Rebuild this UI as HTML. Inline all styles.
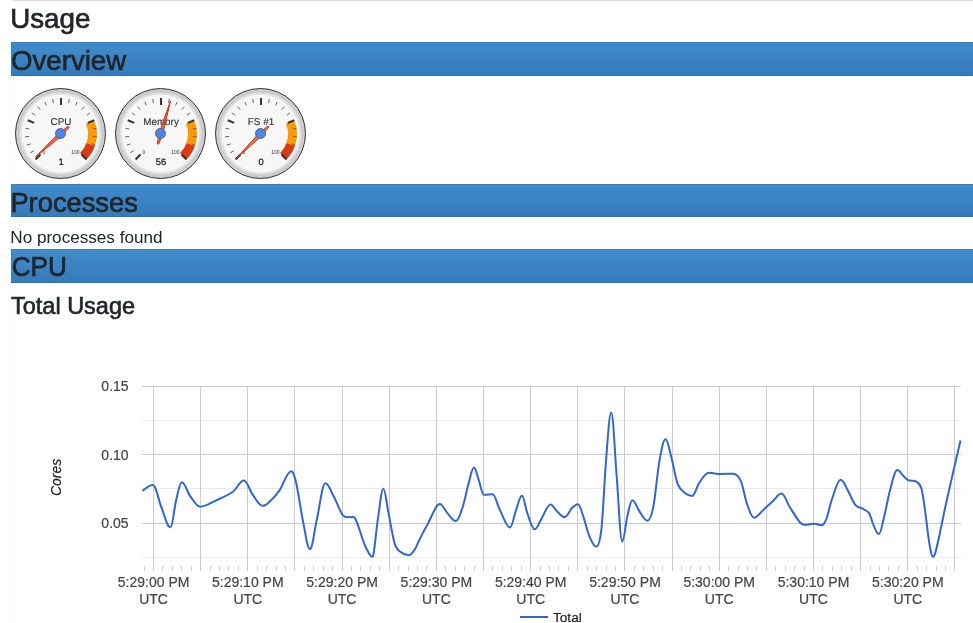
<!DOCTYPE html>
<html><head><meta charset="utf-8"><title>Usage</title>
<style>
html,body{margin:0;padding:0;background:#fff;}
body{width:973px;height:623px;overflow:hidden;position:relative;font-family:"Liberation Sans",sans-serif;color:#212529;}
.topline{position:absolute;left:13px;top:0;right:0;height:1px;background:#dedede;}
.topshadow{position:absolute;left:13px;top:1px;right:0;height:2px;background:linear-gradient(#f3f3f3,#ffffff);}
.leftline{position:absolute;left:10px;top:42px;width:1px;height:581px;background:#f9f9f9;}
.h,.p{will-change:transform;}
.h{position:absolute;left:11px;margin:0;font-weight:400;font-size:28px;line-height:34px;height:34px;white-space:nowrap;}
.bar{right:0;box-sizing:border-box;background:linear-gradient(to bottom,#428bca 0%,#347bbb 100%);border:1px solid #347fc4;border-top-color:#3581c7;border-bottom-color:#2b72b5;border-right:0;}
.h span,.p span{position:relative;display:inline-block;transform-origin:0 50%;}
.p{position:absolute;left:11px;margin:0;font-size:16px;line-height:24px;white-space:nowrap;}
svg{position:absolute;left:0;top:0;will-change:transform;}
svg text{font-family:"Liberation Sans",sans-serif;}
</style></head><body>
<div class="topline"></div><div class="topshadow"></div><div class="leftline"></div>
<h2 class="h" id="h_usage" style="top:0px;font-size:27.8px;-webkit-text-stroke:0.65px #212529;"><span style="transform:translate(-0.79px,2.00px) scaleX(0.9980);">Usage</span></h2>
<h2 class="h bar" id="h_over" style="top:42px;font-size:27.8px;-webkit-text-stroke:0.65px #212529;"><span style="transform:translate(-0.90px,1.20px) scaleX(0.9930);">Overview</span></h2>
<h2 class="h bar" id="h_proc" style="top:184px;font-size:27.8px;height:33px;-webkit-text-stroke:0.65px #212529;"><span style="transform:translate(-1.60px,0.58px) scaleX(0.9820);">Processes</span></h2>
<div class="p" id="p_none" style="top:225px;font-size:16.5px;"><span style="transform:translate(-0.73px,-0.28px) scaleX(1.0370);">No processes found</span></div>
<h2 class="h bar" id="h_cpu" style="top:249px;font-size:27.8px;-webkit-text-stroke:0.65px #212529;"><span style="transform:translate(-0.25px,0.29px) scaleX(0.9400);">CPU</span></h2>
<h4 class="h" id="h_total" style="top:291px;font-size:23.7px;-webkit-text-stroke:0.6px #212529;"><span style="transform:translate(-0.02px,-2.45px) scaleX(0.9920);">Total Usage</span></h4>
<svg width="973" height="623" viewBox="0 0 973 623">
<g>
<circle cx="60.5" cy="133.5" r="45" stroke="#333333" stroke-width="1" fill="#cccccc"/>
<circle cx="60.5" cy="133.5" r="40" stroke="#e0e0e0" stroke-width="2" fill="#f7f7f7"/>
<path d="M94.26,120.22A36,36,0,0,1,94.97,145.93L86.47,142.95A27,27,0,0,0,85.94,123.67Z" fill="#ff9900"/>
<path d="M94.97,145.93A36,36,0,0,1,86.46,159.46L80.09,153.09A27,27,0,0,0,86.47,142.95Z" fill="#dc3912"/>
<g transform="translate(61.0,124.90) scale(0.25) rotate(0.05)"><text x="0" y="0" text-anchor="middle" font-size="39.6" fill="#333333" stroke="#333333" stroke-width="0.6">CPU</text></g>
<text x="42.50" y="153.80" text-anchor="start" font-size="5" fill="#333333">0</text>
<text x="79.60" y="153.80" text-anchor="end" font-size="5" fill="#333333">100</text>
<path d="M30.30,152.81L33.72,150.72M26.76,145.12L30.57,143.89M25.11,136.82L29.10,136.51M25.44,128.37L29.39,128.99M31.88,112.84L35.11,115.19M37.62,106.63L40.22,109.67M44.66,101.92L46.47,105.49M52.60,98.99L53.53,102.88M69.40,98.99L68.47,102.88M77.34,101.92L75.53,105.49M84.38,106.63L81.78,109.67M90.12,112.84L86.89,115.19M96.56,128.37L92.61,128.99M96.89,136.82L92.90,136.51M95.24,145.12L91.43,143.89M91.70,152.81L88.28,150.72" stroke="#666666" stroke-width="1" fill="none"/>
<path d="M35.54,159.46L40.49,154.51M27.74,120.22L34.21,122.90M61.00,98.00L61.00,105.00M94.26,120.22L87.79,122.90M86.46,159.46L81.51,154.51" stroke="#333333" stroke-width="2" fill="none"/>
<g transform="translate(61.0,164.90) scale(0.25) rotate(0.05)"><text x="0" y="0" text-anchor="middle" font-size="37.6" fill="#000000" stroke="#000000" stroke-width="0.6">1</text></g>
<path d="M35.53,156.98L52.90,142.94L62.08,135.19L69.14,127.35L68.20,126.32L59.72,132.61L51.15,141.01Z" stroke="#c63310" stroke-width="1" stroke-linejoin="round" fill="#dc3912" fill-opacity="0.7"/>
<circle cx="60.5" cy="133.5" r="5.0" stroke="#666666" stroke-width="1" fill="#4684ee"/>
</g><g>
<circle cx="160.5" cy="133.5" r="45" stroke="#333333" stroke-width="1" fill="#cccccc"/>
<circle cx="160.5" cy="133.5" r="40" stroke="#e0e0e0" stroke-width="2" fill="#f7f7f7"/>
<path d="M194.26,120.22A36,36,0,0,1,194.97,145.93L186.47,142.95A27,27,0,0,0,185.94,123.67Z" fill="#ff9900"/>
<path d="M194.97,145.93A36,36,0,0,1,186.46,159.46L180.09,153.09A27,27,0,0,0,186.47,142.95Z" fill="#dc3912"/>
<g transform="translate(161.0,124.90) scale(0.25) rotate(0.05)"><text x="0" y="0" text-anchor="middle" font-size="39.6" fill="#333333" stroke="#333333" stroke-width="0.6">Memory</text></g>
<text x="142.50" y="153.80" text-anchor="start" font-size="5" fill="#333333">0</text>
<text x="179.60" y="153.80" text-anchor="end" font-size="5" fill="#333333">100</text>
<path d="M130.30,152.81L133.72,150.72M126.76,145.12L130.57,143.89M125.11,136.82L129.10,136.51M125.44,128.37L129.39,128.99M131.88,112.84L135.11,115.19M137.62,106.63L140.22,109.67M144.66,101.92L146.47,105.49M152.60,98.99L153.53,102.88M169.40,98.99L168.47,102.88M177.34,101.92L175.53,105.49M184.38,106.63L181.78,109.67M190.12,112.84L186.89,115.19M196.56,128.37L192.61,128.99M196.89,136.82L192.90,136.51M195.24,145.12L191.43,143.89M191.70,152.81L188.28,150.72" stroke="#666666" stroke-width="1" fill="none"/>
<path d="M135.54,159.46L140.49,154.51M127.74,120.22L134.21,122.90M161.00,98.00L161.00,105.00M194.26,120.22L187.79,122.90M186.46,159.46L181.51,154.51" stroke="#333333" stroke-width="2" fill="none"/>
<g transform="translate(161.0,164.90) scale(0.25) rotate(0.05)"><text x="0" y="0" text-anchor="middle" font-size="37.6" fill="#000000" stroke="#000000" stroke-width="0.6">56</text></g>
<path d="M170.47,100.96L163.00,122.01L159.22,133.41L157.30,143.79L158.64,144.18L162.58,134.39L165.50,122.74Z" stroke="#c63310" stroke-width="1" stroke-linejoin="round" fill="#dc3912" fill-opacity="0.7"/>
<circle cx="160.5" cy="133.5" r="5.0" stroke="#666666" stroke-width="1" fill="#4684ee"/>
</g><g>
<circle cx="260.5" cy="133.5" r="45" stroke="#333333" stroke-width="1" fill="#cccccc"/>
<circle cx="260.5" cy="133.5" r="40" stroke="#e0e0e0" stroke-width="2" fill="#f7f7f7"/>
<path d="M294.26,120.22A36,36,0,0,1,294.97,145.93L286.47,142.95A27,27,0,0,0,285.94,123.67Z" fill="#ff9900"/>
<path d="M294.97,145.93A36,36,0,0,1,286.46,159.46L280.09,153.09A27,27,0,0,0,286.47,142.95Z" fill="#dc3912"/>
<g transform="translate(261.0,124.90) scale(0.25) rotate(0.05)"><text x="0" y="0" text-anchor="middle" font-size="39.6" fill="#333333" stroke="#333333" stroke-width="0.6">FS #1</text></g>
<text x="242.50" y="153.80" text-anchor="start" font-size="5" fill="#333333">0</text>
<text x="279.60" y="153.80" text-anchor="end" font-size="5" fill="#333333">100</text>
<path d="M230.30,152.81L233.72,150.72M226.76,145.12L230.57,143.89M225.11,136.82L229.10,136.51M225.44,128.37L229.39,128.99M231.88,112.84L235.11,115.19M237.62,106.63L240.22,109.67M244.66,101.92L246.47,105.49M252.60,98.99L253.53,102.88M269.40,98.99L268.47,102.88M277.34,101.92L275.53,105.49M284.38,106.63L281.78,109.67M290.12,112.84L286.89,115.19M296.56,128.37L292.61,128.99M296.89,136.82L292.90,136.51M295.24,145.12L291.43,143.89M291.70,152.81L288.28,150.72" stroke="#666666" stroke-width="1" fill="none"/>
<path d="M235.54,159.46L240.49,154.51M227.74,120.22L234.21,122.90M261.00,98.00L261.00,105.00M294.26,120.22L287.79,122.90M286.46,159.46L281.51,154.51" stroke="#333333" stroke-width="2" fill="none"/>
<g transform="translate(261.0,164.90) scale(0.25) rotate(0.05)"><text x="0" y="0" text-anchor="middle" font-size="37.6" fill="#000000" stroke="#000000" stroke-width="0.6">0</text></g>
<path d="M236.65,158.15L253.33,143.30L262.14,135.14L268.82,126.97L267.83,125.98L259.66,132.66L251.50,141.47Z" stroke="#c63310" stroke-width="1" stroke-linejoin="round" fill="#dc3912" fill-opacity="0.7"/>
<circle cx="260.5" cy="133.5" r="5.0" stroke="#666666" stroke-width="1" fill="#4684ee"/>
</g>
<g>
<rect x="142" y="420" width="819" height="1" fill="#ebebeb"/>
<rect x="142" y="488" width="819" height="1" fill="#ebebeb"/>
<rect x="142" y="557" width="819" height="1" fill="#ebebeb"/>
<rect x="144" y="566" width="1" height="5" fill="#d2d2d2"/>
<rect x="162" y="566" width="1" height="5" fill="#d2d2d2"/>
<rect x="172" y="566" width="1" height="5" fill="#d2d2d2"/>
<rect x="181" y="566" width="1" height="5" fill="#d2d2d2"/>
<rect x="191" y="566" width="1" height="5" fill="#d2d2d2"/>
<rect x="210" y="566" width="1" height="5" fill="#d2d2d2"/>
<rect x="219" y="566" width="1" height="5" fill="#d2d2d2"/>
<rect x="228" y="566" width="1" height="5" fill="#d2d2d2"/>
<rect x="238" y="566" width="1" height="5" fill="#d2d2d2"/>
<rect x="257" y="566" width="1" height="5" fill="#d2d2d2"/>
<rect x="266" y="566" width="1" height="5" fill="#d2d2d2"/>
<rect x="276" y="566" width="1" height="5" fill="#d2d2d2"/>
<rect x="285" y="566" width="1" height="5" fill="#d2d2d2"/>
<rect x="304" y="566" width="1" height="5" fill="#d2d2d2"/>
<rect x="313" y="566" width="1" height="5" fill="#d2d2d2"/>
<rect x="323" y="566" width="1" height="5" fill="#d2d2d2"/>
<rect x="332" y="566" width="1" height="5" fill="#d2d2d2"/>
<rect x="351" y="566" width="1" height="5" fill="#d2d2d2"/>
<rect x="360" y="566" width="1" height="5" fill="#d2d2d2"/>
<rect x="370" y="566" width="1" height="5" fill="#d2d2d2"/>
<rect x="379" y="566" width="1" height="5" fill="#d2d2d2"/>
<rect x="398" y="566" width="1" height="5" fill="#d2d2d2"/>
<rect x="408" y="566" width="1" height="5" fill="#d2d2d2"/>
<rect x="417" y="566" width="1" height="5" fill="#d2d2d2"/>
<rect x="426" y="566" width="1" height="5" fill="#d2d2d2"/>
<rect x="445" y="566" width="1" height="5" fill="#d2d2d2"/>
<rect x="455" y="566" width="1" height="5" fill="#d2d2d2"/>
<rect x="464" y="566" width="1" height="5" fill="#d2d2d2"/>
<rect x="474" y="566" width="1" height="5" fill="#d2d2d2"/>
<rect x="492" y="566" width="1" height="5" fill="#d2d2d2"/>
<rect x="502" y="566" width="1" height="5" fill="#d2d2d2"/>
<rect x="511" y="566" width="1" height="5" fill="#d2d2d2"/>
<rect x="521" y="566" width="1" height="5" fill="#d2d2d2"/>
<rect x="540" y="566" width="1" height="5" fill="#d2d2d2"/>
<rect x="549" y="566" width="1" height="5" fill="#d2d2d2"/>
<rect x="558" y="566" width="1" height="5" fill="#d2d2d2"/>
<rect x="568" y="566" width="1" height="5" fill="#d2d2d2"/>
<rect x="587" y="566" width="1" height="5" fill="#d2d2d2"/>
<rect x="596" y="566" width="1" height="5" fill="#d2d2d2"/>
<rect x="606" y="566" width="1" height="5" fill="#d2d2d2"/>
<rect x="615" y="566" width="1" height="5" fill="#d2d2d2"/>
<rect x="634" y="566" width="1" height="5" fill="#d2d2d2"/>
<rect x="643" y="566" width="1" height="5" fill="#d2d2d2"/>
<rect x="653" y="566" width="1" height="5" fill="#d2d2d2"/>
<rect x="662" y="566" width="1" height="5" fill="#d2d2d2"/>
<rect x="681" y="566" width="1" height="5" fill="#d2d2d2"/>
<rect x="690" y="566" width="1" height="5" fill="#d2d2d2"/>
<rect x="700" y="566" width="1" height="5" fill="#d2d2d2"/>
<rect x="709" y="566" width="1" height="5" fill="#d2d2d2"/>
<rect x="728" y="566" width="1" height="5" fill="#d2d2d2"/>
<rect x="738" y="566" width="1" height="5" fill="#d2d2d2"/>
<rect x="747" y="566" width="1" height="5" fill="#d2d2d2"/>
<rect x="756" y="566" width="1" height="5" fill="#d2d2d2"/>
<rect x="775" y="566" width="1" height="5" fill="#d2d2d2"/>
<rect x="785" y="566" width="1" height="5" fill="#d2d2d2"/>
<rect x="794" y="566" width="1" height="5" fill="#d2d2d2"/>
<rect x="804" y="566" width="1" height="5" fill="#d2d2d2"/>
<rect x="822" y="566" width="1" height="5" fill="#d2d2d2"/>
<rect x="832" y="566" width="1" height="5" fill="#d2d2d2"/>
<rect x="841" y="566" width="1" height="5" fill="#d2d2d2"/>
<rect x="851" y="566" width="1" height="5" fill="#d2d2d2"/>
<rect x="870" y="566" width="1" height="5" fill="#d2d2d2"/>
<rect x="879" y="566" width="1" height="5" fill="#d2d2d2"/>
<rect x="888" y="566" width="1" height="5" fill="#d2d2d2"/>
<rect x="898" y="566" width="1" height="5" fill="#d2d2d2"/>
<rect x="917" y="566" width="1" height="5" fill="#d2d2d2"/>
<rect x="926" y="566" width="1" height="5" fill="#d2d2d2"/>
<rect x="936" y="566" width="1" height="5" fill="#d2d2d2"/>
<rect x="945" y="566" width="1" height="5" fill="#d2d2d2"/>
<rect x="142" y="386" width="819" height="1" fill="#cccccc"/>
<rect x="142" y="454" width="819" height="1" fill="#cccccc"/>
<rect x="142" y="523" width="819" height="1" fill="#cccccc"/>
<rect x="153" y="386" width="1" height="185" fill="#cccccc"/>
<rect x="200" y="386" width="1" height="185" fill="#cccccc"/>
<rect x="247" y="386" width="1" height="185" fill="#cccccc"/>
<rect x="294" y="386" width="1" height="185" fill="#cccccc"/>
<rect x="342" y="386" width="1" height="185" fill="#cccccc"/>
<rect x="389" y="386" width="1" height="185" fill="#cccccc"/>
<rect x="436" y="386" width="1" height="185" fill="#cccccc"/>
<rect x="483" y="386" width="1" height="185" fill="#cccccc"/>
<rect x="530" y="386" width="1" height="185" fill="#cccccc"/>
<rect x="577" y="386" width="1" height="185" fill="#cccccc"/>
<rect x="624" y="386" width="1" height="185" fill="#cccccc"/>
<rect x="672" y="386" width="1" height="185" fill="#cccccc"/>
<rect x="719" y="386" width="1" height="185" fill="#cccccc"/>
<rect x="766" y="386" width="1" height="185" fill="#cccccc"/>
<rect x="813" y="386" width="1" height="185" fill="#cccccc"/>
<rect x="860" y="386" width="1" height="185" fill="#cccccc"/>
<rect x="907" y="386" width="1" height="185" fill="#cccccc"/>
<rect x="954" y="386" width="1" height="185" fill="#cccccc"/>
<path d="M142.4,490.8C144.1,489.8,148.8,485.0,152.8,485.0C156.0,485.0,158.4,499.9,161.3,507.0C164.2,514.0,167.0,527.3,170.5,527.3C172.6,527.3,174.1,508.4,176.0,500.9C177.9,493.4,179.6,482.3,181.8,482.3C185.0,482.3,187.2,492.2,190.3,496.3C193.4,500.4,196.4,506.7,200.1,506.7C206.2,506.7,210.7,502.8,216.2,500.3C221.7,497.8,228.4,495.0,233.0,491.7C237.6,488.4,239.6,480.5,243.7,480.5C247.2,480.5,249.7,490.6,252.8,494.8C256.0,499.0,258.9,505.8,262.6,505.8C265.8,505.8,268.2,502.9,271.1,500.3C274.0,497.7,276.3,495.0,279.7,490.2C283.1,485.4,286.9,471.3,291.3,471.3C293.1,471.3,294.1,474.1,296.1,482.6C298.1,491.1,300.9,511.1,303.2,522.2C305.5,533.3,307.4,549.1,309.9,549.1C312.6,549.1,314.3,530.2,316.9,519.2C319.5,508.2,322.2,483.2,325.4,483.2C328.6,483.2,330.8,491.0,333.7,496.3C336.6,501.6,340.0,511.7,342.8,515.2C345.6,518.7,348.3,516.4,350.4,517.1C352.5,517.8,353.3,514.8,355.6,519.2C357.9,523.6,361.9,537.8,364.2,543.6C366.5,549.4,368.0,551.8,369.3,554.0C370.6,556.2,370.9,556.8,371.9,556.8C372.7,556.8,373.0,557.3,374.0,551.0C375.0,544.7,376.3,529.6,377.9,519.2C379.5,508.8,381.3,488.7,383.4,488.7C385.3,488.7,386.6,504.0,388.5,513.1C390.4,522.2,392.6,537.1,394.7,543.6C396.8,550.1,398.4,550.2,400.8,552.1C403.2,554.0,405.9,555.2,409.0,555.2C411.1,555.2,412.9,552.2,414.5,550.0C416.1,547.8,416.9,544.9,418.4,542.0C419.8,539.1,421.6,535.5,423.2,532.4C424.8,529.3,426.4,526.8,428.0,523.6C429.6,520.4,431.4,516.2,432.9,513.2C434.4,510.3,435.8,507.4,436.9,505.9C438.0,504.3,438.7,503.9,439.8,503.9C442.7,503.9,444.7,510.2,447.4,513.1C450.1,516.0,452.7,521.0,456.0,521.0C458.5,521.0,460.6,513.4,462.7,507.0C464.8,500.6,466.9,489.2,468.8,482.6C470.7,476.0,472.0,467.6,474.0,467.6C475.7,467.6,476.9,475.0,478.6,479.5C480.3,484.0,481.9,494.8,484.0,494.8C487.3,494.8,489.3,494.2,492.6,494.2C495.4,494.2,497.0,504.5,499.9,510.0C502.8,515.5,506.2,527.4,510.0,527.4C512.3,527.4,514.1,515.3,516.1,510.0C518.1,504.7,519.7,495.7,521.9,495.7C524.0,495.7,525.2,507.5,527.3,513.1C529.4,518.7,531.9,529.3,534.7,529.3C537.5,529.3,539.4,521.8,542.0,517.7C544.6,513.6,547.3,504.5,550.5,504.5C553.0,504.5,554.9,509.5,557.2,511.6C559.6,513.7,561.8,517.1,564.6,517.1C567.3,517.1,569.4,510.6,571.6,508.5C573.8,506.4,575.6,504.2,578.0,504.2C580.0,504.2,581.3,510.8,583.2,516.1C585.1,521.4,587.1,530.9,589.3,536.0C591.5,541.1,593.6,546.6,596.3,546.6C598.3,546.6,599.9,542.5,601.5,528.3C603.1,514.1,604.4,480.5,606.0,461.2C607.6,441.9,609.2,412.4,611.2,412.4C613.3,412.4,614.9,455.0,616.7,476.5C618.5,498.0,620.1,541.4,622.2,541.4C624.2,541.4,625.7,523.0,627.4,516.1C629.1,509.2,630.4,500.3,632.3,500.3C635.1,500.3,637.1,508.2,639.6,511.6C642.1,515.0,644.5,520.7,647.5,520.7C649.7,520.7,651.3,516.9,653.3,507.0C655.3,497.1,657.4,472.5,659.4,461.2C661.4,449.9,663.2,439.3,665.5,439.3C667.8,439.3,669.6,450.7,671.6,458.2C673.6,465.7,675.4,478.2,677.7,484.1C680.0,490.0,682.9,491.3,685.3,493.3C687.7,495.3,689.6,496.0,692.2,496.0C694.9,496.0,696.6,486.5,699.4,482.6C702.2,478.7,705.3,472.8,708.9,472.8C713.5,472.8,716.5,474.0,721.1,474.0C725.7,474.0,728.7,473.7,733.3,473.7C736.2,473.7,738.6,476.1,740.9,481.1C743.2,486.1,744.8,497.8,747.0,503.9C749.2,510.0,751.4,517.7,754.1,517.7C757.8,517.7,760.6,512.2,763.8,509.4C766.9,506.6,770.0,503.5,773.0,500.9C776.0,498.3,778.3,493.6,781.5,493.6C784.6,493.6,786.6,502.1,789.7,507.0C792.9,511.9,797.6,519.8,800.4,522.8C803.2,525.8,804.2,524.7,806.5,524.7C809.4,524.7,811.2,523.8,814.1,523.8C817.0,523.8,818.9,525.3,821.8,525.3C823.5,525.3,824.5,523.8,826.3,519.2C828.1,514.6,830.0,504.4,832.4,497.8C834.8,491.2,837.5,479.8,840.7,479.8C843.4,479.8,845.3,486.0,847.7,490.2C850.1,494.4,852.8,501.8,855.3,504.9C857.8,508.0,860.6,507.4,862.9,508.8C865.2,510.2,867.2,510.4,869.0,513.1C870.8,515.9,872.0,521.8,873.6,525.3C875.2,528.8,876.8,534.1,878.8,534.1C880.9,534.1,882.4,523.7,884.3,516.1C886.2,508.5,888.2,496.4,890.4,488.7C892.6,481.0,894.7,470.1,897.4,470.1C899.4,470.1,900.8,473.3,902.6,475.0C904.4,476.7,905.8,479.1,908.1,480.2C910.4,481.3,914.1,480.3,916.3,481.7C918.5,483.1,920.0,483.5,921.5,488.7C923.0,493.9,924.1,504.0,925.4,513.1C926.7,522.2,928.1,536.3,929.4,543.6C930.7,550.9,931.7,556.7,933.1,556.7C934.8,556.7,935.6,551.9,937.6,543.6C939.6,535.3,942.8,518.7,945.3,507.0C947.8,495.3,950.4,484.5,952.9,473.4C955.4,462.3,959.2,446.0,960.5,440.5" stroke="#3366cc" stroke-width="2" fill="none" stroke-linejoin="round"/>
<text x="153.6" y="586.8" text-anchor="middle" font-size="14" fill="#444444" stroke="#444444" stroke-width="0.2">5:29:00 PM</text>
<text x="153.6" y="603.7" text-anchor="middle" font-size="14" fill="#444444" stroke="#444444" stroke-width="0.2">UTC</text>
<text x="247.8" y="586.8" text-anchor="middle" font-size="14" fill="#444444" stroke="#444444" stroke-width="0.2">5:29:10 PM</text>
<text x="247.8" y="603.7" text-anchor="middle" font-size="14" fill="#444444" stroke="#444444" stroke-width="0.2">UTC</text>
<text x="342.1" y="586.8" text-anchor="middle" font-size="14" fill="#444444" stroke="#444444" stroke-width="0.2">5:29:20 PM</text>
<text x="342.1" y="603.7" text-anchor="middle" font-size="14" fill="#444444" stroke="#444444" stroke-width="0.2">UTC</text>
<text x="436.4" y="586.8" text-anchor="middle" font-size="14" fill="#444444" stroke="#444444" stroke-width="0.2">5:29:30 PM</text>
<text x="436.4" y="603.7" text-anchor="middle" font-size="14" fill="#444444" stroke="#444444" stroke-width="0.2">UTC</text>
<text x="530.7" y="586.8" text-anchor="middle" font-size="14" fill="#444444" stroke="#444444" stroke-width="0.2">5:29:40 PM</text>
<text x="530.7" y="603.7" text-anchor="middle" font-size="14" fill="#444444" stroke="#444444" stroke-width="0.2">UTC</text>
<text x="625.0" y="586.8" text-anchor="middle" font-size="14" fill="#444444" stroke="#444444" stroke-width="0.2">5:29:50 PM</text>
<text x="625.0" y="603.7" text-anchor="middle" font-size="14" fill="#444444" stroke="#444444" stroke-width="0.2">UTC</text>
<text x="719.2" y="586.8" text-anchor="middle" font-size="14" fill="#444444" stroke="#444444" stroke-width="0.2">5:30:00 PM</text>
<text x="719.2" y="603.7" text-anchor="middle" font-size="14" fill="#444444" stroke="#444444" stroke-width="0.2">UTC</text>
<text x="813.5" y="586.8" text-anchor="middle" font-size="14" fill="#444444" stroke="#444444" stroke-width="0.2">5:30:10 PM</text>
<text x="813.5" y="603.7" text-anchor="middle" font-size="14" fill="#444444" stroke="#444444" stroke-width="0.2">UTC</text>
<text x="907.8" y="586.8" text-anchor="middle" font-size="14" fill="#444444" stroke="#444444" stroke-width="0.2">5:30:20 PM</text>
<text x="907.8" y="603.7" text-anchor="middle" font-size="14" fill="#444444" stroke="#444444" stroke-width="0.2">UTC</text>
<text x="128.6" y="391.4" text-anchor="end" font-size="14" fill="#444444" stroke="#444444" stroke-width="0.2">0.15</text>
<text x="128.6" y="460.0" text-anchor="end" font-size="14" fill="#444444" stroke="#444444" stroke-width="0.2">0.10</text>
<text x="128.6" y="528.4" text-anchor="end" font-size="14" fill="#444444" stroke="#444444" stroke-width="0.2">0.05</text>
<text x="61.5" y="477.4" text-anchor="middle" font-size="14" font-style="italic" fill="#222222" stroke="#222222" stroke-width="0.2" transform="rotate(-90 61.5 477.4)">Cores</text>
<rect x="520" y="616" width="28" height="2" fill="#3366cc"/>
<text x="553" y="621.6" font-size="13.6" fill="#222222" stroke="#222222" stroke-width="0.2">Total</text>
</g>
</svg>
</body></html>
